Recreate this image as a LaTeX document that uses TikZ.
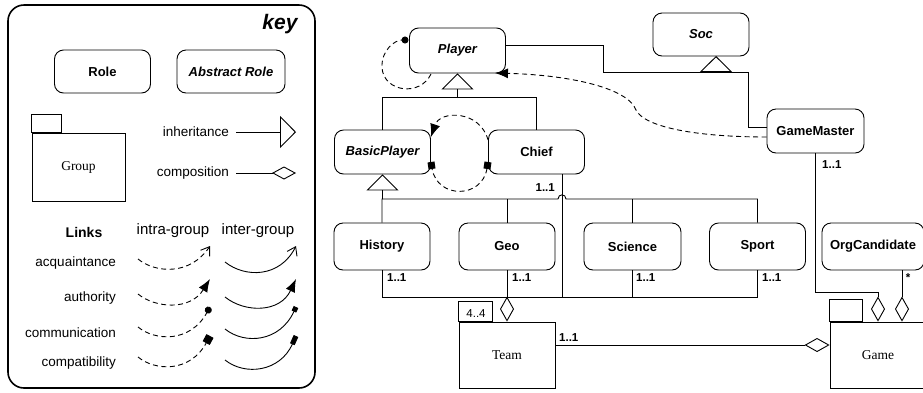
\documentclass[tikz,border=0pt]{standalone}
\usepackage{fontspec}
\setmainfont{Liberation Sans}
\newfontfamily\grpfont{Liberation Serif}
\usetikzlibrary{arrows.meta}

\tikzset{
  role/.style={draw, rounded corners=9pt, minimum width=96pt, minimum height=45pt,
    inner sep=0pt, line width=0.9pt, font=\fontsize{13}{15}\selectfont\bfseries},
  arole/.style={role, font=\fontsize{13}{15}\selectfont\bfseries\itshape},
  grp/.style={draw, line width=0.9pt, minimum width=96pt, minimum height=66pt,
    inner sep=0pt, font=\grpfont\fontsize{13.5}{15}\selectfont},
  conn/.style={line width=0.9pt},
  inh/.style={conn, -{Triangle[open, length=16pt, width=32pt, line width=0.9pt]}},
  comp/.style={conn, -{Diamond[open, length=25pt, width=14pt, line width=0.9pt]}},
  lnk/.style={line width=0.9pt, dash pattern=on 5pt off 3.5pt},
  inter/.style={line width=0.9pt},
  acqtip/.style={-{Straight Barb[length=8pt, width=11pt, line width=0.9pt]}},
  authtip/.style={-{Latex[length=13pt, width=10pt]}},
  commtip/.style={-{Circle[length=7pt]}},
  comptip/.style={-{Square[length=8pt, width=8pt]}},
  keylbl/.style={font=\fontsize{13.5}{15}\selectfont, inner sep=0pt},
  card/.style={font=\fontsize{11.5}{12}\selectfont\bfseries, inner sep=0pt},
}

\begin{document}
\begin{tikzpicture}[x=1pt, y=-1pt]
\useasboundingbox (0,0) rectangle (923,392);
\clip (0,0) rectangle (923,392);
\fill[white] (0,0) rectangle (923,392);

% ---------------- legend ----------------
\draw[line width=1.6pt, rounded corners=16pt] (8,5) rectangle (315,388);
\node[font=\fontsize{21}{24}\selectfont\bfseries\itshape] (keytitle) at (280,24) {key};

\node[role, minimum height=43pt] (role) at (102.5,71.5) {Role};
\node[arole, minimum width=108pt, minimum height=43pt] (arole) at (231,71.5) {Abstract Role};

\node[grp, minimum width=93pt, minimum height=68pt] (group) at (78.5,167) {Group};
\draw[line width=0.9pt] (group.north west) rectangle ++(30,-18);

\node[keylbl, anchor=east] (inhlbl) at (229,132) {inheritance};
\coordinate (inhend) at (296,132);
\draw[inh, shorten <=7pt] (inhlbl.east) -- (inhend);

\node[keylbl, anchor=east] (complbl) at (229,173) {composition};
\coordinate (compend) at (296,173);
\draw[conn, -{Diamond[open, length=24pt, width=13pt, line width=0.9pt]}, shorten <=7pt] (complbl.east) -- (compend);

\node[font=\fontsize{14}{16}\selectfont\bfseries] (links) at (84,232) {Links};
\node[font=\fontsize{15}{17}\selectfont] (intra) at (173,231) {intra-group};
\node[font=\fontsize{15}{17}\selectfont] (interg) at (258,231) {inter-group};

\node[keylbl, anchor=east] (acq) at (116,263) {acquaintance};
\node[keylbl, anchor=east] (auth) at (116,298) {authority};
\node[keylbl, anchor=east] (comm) at (116,333) {communication};
\node[keylbl, anchor=east] (compat) at (116,363) {compatibility};

% intra-group samples (dashed)
\draw[lnk, acqtip]  (138,259) .. controls (155,273) and (190,276) .. (210,246);
\draw[lnk, authtip] (138,294) .. controls (155,308) and (190,311) .. (210,279);
\draw[lnk, commtip] (138,327) .. controls (155,341) and (190,343) .. (210,307);
\draw[lnk, comptip] (138,357) .. controls (155,371) and (190,373) .. (210,336);

% inter-group samples (solid)
\draw[inter, acqtip]  (225,262) .. controls (245,278) and (280,278) .. (296,246);
\draw[inter, authtip] (225,297) .. controls (245,313) and (280,313) .. (296,279);
\draw[inter, -{Square[length=5pt, width=5pt]}] (225,329) .. controls (245,345) and (280,342) .. (296,307);
\draw[inter, -{Square[length=9pt, width=5pt]}] (225,360) .. controls (245,376) and (280,372) .. (296,336);

% ---------------- roles ----------------
\node[arole] (Player) at (457.5,50.5) {Player};
\node[arole, minimum height=43pt] (Soc) at (701,34.5) {Soc};
\node[role, minimum width=97pt, minimum height=44pt] (GameMaster) at (815.5,131) {GameMaster};
\node[arole, minimum height=44pt] (BasicPlayer) at (382.5,152) {BasicPlayer};
\node[role, minimum height=44pt] (Chief) at (536.5,152) {Chief};
\node[role, minimum height=47pt] (History) at (382,246.5) {History};
\node[role, minimum height=47pt] (Geo) at (507,246.5) {Geo};
\node[role, minimum width=97pt, minimum height=47pt] (Science) at (632.5,246.5) {Science};
\node[role, minimum height=47pt] (Sport) at (757.5,246.5) {Sport};
\node[role, minimum width=102pt, minimum height=47pt] (OrgCandidate) at (873,246.5) {OrgCandidate};

% ---------------- groups ----------------
\node[grp] (Team) at (507,355) {Team};
\draw[line width=0.9pt] (Team.north west) rectangle ++(34,-20);
\node[grp] (Game) at (878,355) {Game};
\draw[line width=0.9pt] (Game.north west) rectangle ++(33,-22);

% ---------------- inheritance ----------------
\coordinate (pbus) at (457.5,98);
\draw[conn] (BasicPlayer.north) -- ++(0,-32) -| (Chief.north);
\draw[inh] (pbus) -- (Player.south);

\coordinate (socbase) at (716,72);
\coordinate (socapex) at (716,56);
\draw[conn] ([yshift=5.5pt]Player.east) -- (603,45) -- (603,72) -- (748,72) -- (748,127) -- ([yshift=4pt]GameMaster.west);
\draw[inh] (socbase) -- (socapex);

\coordinate (bbus) at (382.5,199);
\draw[inh] (bbus) -- (BasicPlayer.south);
\draw[conn] (History.north) -- (382,199) -- (558,199) .. controls (558,193.5) and (566,193.5) .. (566,199) -- (757.5,199) -- (Sport.north);
\draw[conn] (Geo.north) -- ++(0,-24);
\draw[conn] (Science.north) -- ++(0,-24);

% ---------------- composition ----------------
\coordinate (chiefout) at (562,174);
\draw[conn] (History.south) -- (382,297) -- (757.5,297) -- (Sport.south);
\draw[conn] (Science.south) -- ++(0,27);
\draw[conn] (chiefout) -- (562,297);
\draw[comp] (Geo.south) -- (Team.north);
\draw[comp] ([yshift=10pt]Team.east) -- ([yshift=10pt]Game.west);
\draw[comp] (GameMaster.south) -- ++(0,139) -| (Game.north);
\draw[comp] ([xshift=29pt]OrgCandidate.south) -- ([xshift=24pt]Game.north);

% ---------------- links ----------------
\coordinate (ploopA) at (431,74);
\coordinate (ploopB) at (408.5,40);
\draw[lnk, commtip] (ploopA) .. controls (420,97) and (384,92) .. (382,68) .. controls (381,50) and (395,40) .. (ploopB);

\draw[lnk, authtip] ([yshift=12pt]Chief.west) .. controls (480,110) and (440,110) .. ([yshift=15pt]BasicPlayer.east);
\draw[lnk, {Square[length=7pt, width=7pt]}-{Square[length=7pt, width=7pt]}] ([yshift=-10pt]Chief.west) .. controls (482,199) and (437,199) .. ([yshift=-10pt]BasicPlayer.east);

\draw[lnk, authtip] ([yshift=-6pt]GameMaster.west) .. controls (700,137) and (645,128) .. (636,110) .. controls (628,88) and (570,75) .. ([xshift=-11pt, yshift=-22.5pt]Player.east);

% ---------------- cardinalities ----------------
\node[card, anchor=west] (cH) at (387,278) {1..1};
\node[card, anchor=west] (cG) at (512,278) {1..1};
\node[card, anchor=west] (cS) at (636,278) {1..1};
\node[card, anchor=west] (cSp) at (762,278) {1..1};
\node[card, anchor=east] (cC) at (555,188) {1..1};
\node[card, anchor=west] (cGM) at (822,165) {1..1};
\node[card, anchor=west] (cT) at (559,338) {1..1};
\node[card] (cO) at (908,278) {*};
\node[font=\fontsize{11.5}{12}\selectfont, inner sep=0pt] (cTeam) at (476,314) {4..4};
\end{tikzpicture}
\end{document}
